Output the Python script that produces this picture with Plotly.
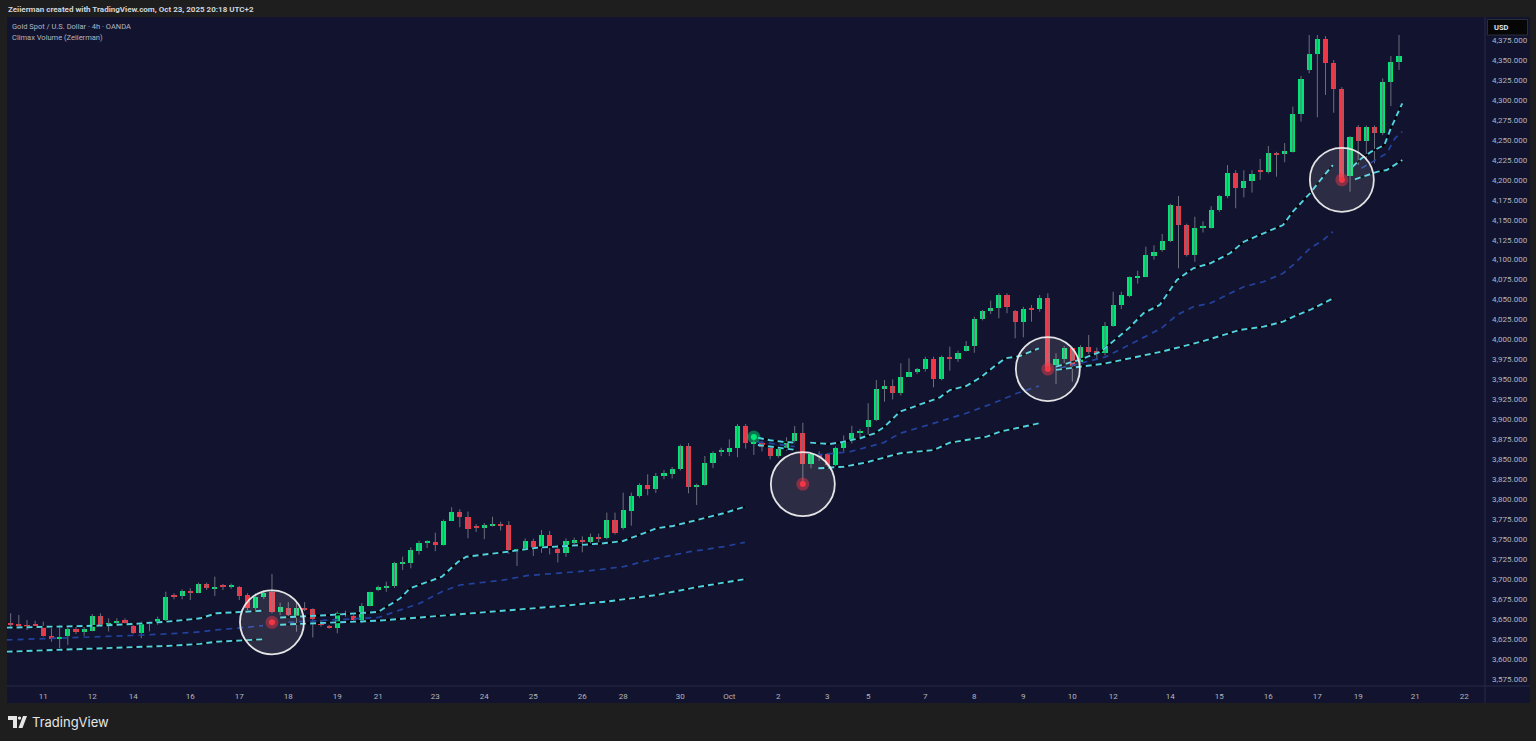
import plotly.graph_objects as go

# ---------------- data (bar index k; 4h bars, Gold Spot / USD) ----------------
bar_idx = list(range(-4, 167))

opens = [3645.5, 3643.5, 3642.0, 3643.5, 3640.5, 3628.8, 3624.7, 3628.8, 3637.3, 3635.0,
         3635.5, 3653.9, 3641.4, 3644.7, 3648.9, 3641.8, 3633.0, 3644.7, 3644.7, 3648.9,
         3679.8, 3679.0, 3685.2, 3683.1, 3693.9, 3688.6, 3691.5, 3690.5, 3689.8, 3680.2,
         3663.5, 3678.1, 3683.5, 3659.3, 3664.4, 3653.9, 3664.4, 3662.4, 3645.5, 3641.4,
         3639.2, 3658.1, 3653.9, 3648.9, 3666.8, 3686.4, 3689.8, 3691.5, 3719.9, 3719.9,
         3735.6, 3745.7, 3746.5, 3743.2, 3773.2, 3783.7, 3778.2, 3765.7, 3764.4, 3767.8,
         3769.4, 3767.8, 3736.5, 3738.3, 3748.2, 3738.7, 3755.3, 3737.8, 3732.4, 3745.4,
         3749.0, 3746.5, 3752.8, 3751.1, 3773.7, 3763.7, 3785.8, 3804.4, 3818.2, 3812.5,
         3829.6, 3831.7, 3838.0, 3866.7, 3815.0, 3818.2, 3845.1, 3859.8, 3859.6, 3863.9,
         3891.8, 3870.1, 3870.1, 3863.9, 3854.6, 3863.0, 3873.4, 3883.4, 3844.2, 3856.4,
         3856.4, 3842.9, 3863.9, 3874.3, 3882.6, 3890.2, 3899.3, 3937.7, 3941.8, 3933.4,
         3953.5, 3959.7, 3962.8, 3975.3, 3950.2, 3978.5, 3975.6, 3985.7, 3991.9, 4025.7,
         4035.7, 4039.9, 4055.8, 4036.1, 4022.4, 4037.9, 4037.9, 4052.4, 3968.1, 3975.6,
         3989.8, 3972.3, 3991.1, 3985.7, 3983.5, 4017.0, 4043.3, 4054.9, 4076.7, 4078.7,
         4105.0, 4112.1, 4123.8, 4167.2, 4143.4, 4105.9, 4140.0, 4140.0, 4162.2, 4179.7,
         4208.0, 4190.0, 4198.5, 4212.3, 4209.4, 4233.9, 4232.3, 4235.2, 4282.0, 4337.5,
         4357.5, 4375.9, 4346.6, 4314.0, 4204.8, 4266.5, 4249.0, 4265.7, 4258.2, 4322.9,
         4347.1]

highs = [3657.3, 3655.1, 3648.9, 3648.0, 3646.8, 3638.5, 3642.6, 3640.5, 3640.5, 3640.5,
         3656.4, 3657.3, 3651.0, 3651.0, 3651.0, 3644.7, 3646.8, 3646.8, 3653.0, 3684.3,
         3682.3, 3687.3, 3688.6, 3695.6, 3695.6, 3703.1, 3694.0, 3694.4, 3691.5, 3682.3,
         3682.3, 3686.4, 3706.5, 3670.6, 3671.3, 3671.8, 3671.3, 3663.5, 3648.9, 3642.6,
         3659.6, 3660.5, 3657.3, 3670.0, 3684.3, 3692.0, 3696.9, 3721.7, 3728.2, 3739.9,
         3748.2, 3748.6, 3758.2, 3774.6, 3790.0, 3787.5, 3784.6, 3768.9, 3770.3, 3778.2,
         3772.0, 3772.6, 3738.0, 3751.0, 3750.7, 3761.6, 3760.4, 3742.9, 3751.0, 3752.0,
         3753.6, 3757.0, 3757.0, 3783.3, 3783.3, 3808.3, 3808.3, 3820.0, 3831.3, 3833.0,
         3836.5, 3840.5, 3868.5, 3870.4, 3819.5, 3854.2, 3860.1, 3864.5, 3875.0, 3894.3,
         3894.3, 3878.0, 3873.0, 3866.0, 3866.0, 3877.6, 3891.8, 3895.9, 3858.0, 3860.0,
         3858.0, 3866.0, 3880.0, 3892.0, 3888.0, 3920.2, 3949.4, 3949.4, 3950.0, 3970.3,
         3976.5, 3964.5, 3978.5, 3978.5, 3980.0, 3991.1, 3986.0, 3998.2, 4028.6, 4037.0,
         4048.7, 4057.9, 4057.9, 4037.0, 4041.1, 4043.3, 4055.8, 4057.9, 3982.8, 3992.0,
         3991.0, 3993.0, 4005.7, 3990.0, 4022.0, 4059.9, 4059.9, 4079.0, 4086.2, 4116.3,
         4118.0, 4132.2, 4170.0, 4179.7, 4145.0, 4153.8, 4148.0, 4167.0, 4181.0, 4218.5,
         4212.0, 4212.0, 4212.0, 4226.0, 4242.3, 4235.0, 4246.0, 4291.6, 4330.0, 4381.3,
         4381.3, 4380.0, 4350.0, 4316.0, 4255.0, 4268.6, 4268.0, 4268.0, 4327.1, 4355.0,
         4381.3]

lows = [3640.5, 3640.5, 3636.4, 3638.5, 3628.0, 3621.7, 3613.5, 3617.6, 3631.4, 3629.0,
        3634.7, 3640.5, 3634.6, 3642.6, 3642.6, 3631.4, 3626.0, 3634.6, 3643.0, 3647.0,
        3674.8, 3674.8, 3673.9, 3682.3, 3686.4, 3679.0, 3686.4, 3688.0, 3673.9, 3661.4,
        3661.4, 3675.0, 3657.3, 3655.0, 3653.0, 3634.2, 3660.0, 3627.0, 3640.5, 3638.0,
        3632.2, 3653.0, 3646.8, 3645.0, 3666.0, 3685.0, 3684.3, 3689.0, 3711.5, 3713.6,
        3731.0, 3739.0, 3735.0, 3742.0, 3773.0, 3765.0, 3751.2, 3759.0, 3750.0, 3766.0,
        3761.0, 3731.5, 3716.5, 3737.0, 3729.0, 3733.0, 3731.0, 3721.0, 3728.0, 3742.0,
        3733.6, 3743.5, 3746.0, 3750.0, 3756.0, 3762.0, 3766.9, 3802.0, 3805.0, 3808.0,
        3825.0, 3826.0, 3836.0, 3807.5, 3792.9, 3817.0, 3839.0, 3854.0, 3854.0, 3852.6,
        3863.5, 3855.5, 3860.0, 3850.0, 3852.0, 3861.0, 3870.0, 3819.0, 3838.8, 3848.0,
        3840.0, 3840.0, 3860.0, 3870.0, 3875.0, 3880.5, 3898.0, 3922.2, 3925.0, 3930.0,
        3953.0, 3957.0, 3960.0, 3940.2, 3949.0, 3961.0, 3972.0, 3985.0, 3983.5, 4024.0,
        4032.0, 4026.6, 4032.9, 4001.6, 4002.8, 4022.4, 4035.0, 3964.0, 3944.4, 3968.0,
        3947.2, 3965.0, 3982.0, 3975.0, 3980.0, 4016.0, 4038.0, 4053.0, 4070.0, 4078.0,
        4100.0, 4110.0, 4122.0, 4089.2, 4104.0, 4097.5, 4134.0, 4139.0, 4160.0, 4177.0,
        4164.3, 4178.0, 4184.0, 4200.0, 4208.0, 4203.9, 4222.0, 4234.0, 4272.8, 4333.3,
        4278.3, 4306.2, 4284.0, 4196.0, 4185.1, 4218.5, 4225.0, 4220.7, 4256.0, 4292.4,
        4337.5]

closes = [3643.5, 3642.3, 3640.8, 3641.8, 3628.8, 3624.7, 3628.0, 3637.3, 3634.3, 3637.0,
          3653.9, 3641.4, 3644.7, 3648.0, 3644.7, 3633.0, 3644.7, 3645.2, 3649.7, 3678.1,
          3677.3, 3685.2, 3683.1, 3693.9, 3688.6, 3689.2, 3690.5, 3691.2, 3679.3, 3663.5,
          3678.1, 3683.1, 3659.3, 3664.8, 3655.1, 3663.5, 3662.4, 3649.8, 3643.5, 3639.2,
          3657.3, 3656.1, 3648.9, 3666.8, 3683.5, 3690.5, 3691.5, 3719.9, 3720.8, 3736.5,
          3745.7, 3746.2, 3743.2, 3773.2, 3783.7, 3778.2, 3763.2, 3764.4, 3767.8, 3769.4,
          3767.8, 3736.5, 3737.3, 3748.2, 3738.3, 3755.3, 3740.7, 3732.4, 3748.2, 3749.0,
          3746.1, 3752.4, 3751.1, 3773.7, 3758.2, 3786.6, 3804.4, 3818.2, 3812.5, 3829.6,
          3833.3, 3838.0, 3866.7, 3815.0, 3818.2, 3845.1, 3857.6, 3861.0, 3863.9, 3891.8,
          3870.1, 3871.0, 3865.0, 3854.6, 3863.0, 3873.4, 3883.4, 3844.2, 3856.4, 3854.0,
          3842.9, 3863.9, 3872.8, 3882.6, 3885.5, 3899.3, 3937.7, 3941.8, 3933.4, 3953.5,
          3959.7, 3962.8, 3975.3, 3950.2, 3978.5, 3975.6, 3983.5, 3992.0, 4025.7, 4035.7,
          4039.9, 4055.8, 4041.1, 4022.4, 4037.9, 4037.0, 4052.4, 3965.3, 3975.3, 3989.8,
          3966.9, 3991.1, 3984.8, 3983.5, 4017.0, 4043.3, 4055.8, 4077.9, 4079.6, 4105.5,
          4110.0, 4123.8, 4168.5, 4143.4, 4105.9, 4140.0, 4142.2, 4162.2, 4179.7, 4208.0,
          4190.0, 4198.5, 4207.0, 4209.4, 4233.2, 4232.3, 4236.1, 4282.4, 4325.8, 4357.5,
          4375.9, 4346.6, 4314.0, 4199.8, 4253.2, 4249.0, 4265.7, 4258.2, 4322.9, 4347.1,
          4355.0]

# x-axis day labels (bar index of first bar of each labelled day)
tick_idx = [0, 6, 11, 18, 24, 30, 36, 41, 48, 54, 60, 66, 71, 78, 84, 90, 96, 101,
            108, 114, 120, 126, 131, 138, 144, 150, 156, 161, 168, 174]
tick_txt = ['11', '12', '14', '16', '17', '18', '19', '21', '23', '24', '25', '26', '28',
            '30', 'Oct', '2', '3', '5', '7', '8', '9', '10', '12', '14', '15', '16', '17',
            '19', '21', '22']

price_ticks = list(range(3575, 4376, 25))

# Climax Volume indicator: climax events
climax_red_idx = [28, 93, 123, 159]
climax_red_px = [3646.0, 3819.0, 3963.0, 4200.0]
climax_green_idx = [87]
climax_green_px = [3878.0]

# band segments (each restarts at a climax)
segA_x = [-4.5, 0.8, 6.9, 11.0, 15.1, 19.2, 21.2, 26.9]
segA_up = [3639.3, 3640.5, 3641.8, 3643.9, 3646.8, 3651.0, 3657.3, 3660.5]
segA_mid = [3623.9, 3625.5, 3628.0, 3629.5, 3631.4, 3634.0, 3636.4, 3641.8]
segA_lo = [3609.2, 3611.0, 3613.5, 3615.0, 3616.4, 3619.0, 3621.7, 3624.7]

segB_up_x = [29, 35, 41, 43.7, 44.9, 48.8, 50.8, 51.8, 56.9, 60.4, 64.1, 68.6, 71, 75.1, 77.1, 80.8, 83.3, 85.9]
segB_up = [3652.0, 3655.0, 3659.0, 3676.0, 3688.6, 3703.1, 3721.9, 3728.1, 3734.4, 3739.4, 3741.5,
           3744.9, 3747.8, 3763.7, 3766.6, 3776.2, 3782.5, 3790.8]
segB_mid_x = [30, 41, 46.1, 48.8, 51, 56.3, 59.2, 62.9, 66.9, 71, 75.1, 79.2, 83.3, 85.9]
segB_mid = [3646.0, 3652.0, 3669.8, 3684.3, 3692.7, 3698.9, 3704.4, 3707.3, 3710.6, 3715.6,
            3726.1, 3734.4, 3740.7, 3746.1]
segB_lo_x = [29, 41, 46, 51, 57, 63, 69, 75, 80, 85.9]
segB_lo = [3643.0, 3648.0, 3652.0, 3656.0, 3661.0, 3666.0, 3672.0, 3680.0, 3690.0, 3700.0]

segC_x = [87.5, 89, 90.5, 92]
segC_up = [3877.0, 3874.0, 3872.0, 3871.0]
segC_mid = [3872.0, 3870.0, 3868.0, 3866.0]
segC_lo = [3868.0, 3866.0, 3864.0, 3862.0]

segD_up_x = [93.9, 96.3, 98, 100, 101.8, 103, 104.9, 106.9, 109.8, 111, 113, 114.9, 116.3, 117.8, 119.6, 121.9]
segD_up = [3870.9, 3869.2, 3872.1, 3876.4, 3882.6, 3890.9, 3909.7, 3916.8, 3927.7, 3936.8, 3941.8,
           3953.5, 3965.3, 3976.5, 3979.4, 3989.1]
segD_mid_x = [94.7, 98.8, 102.9, 104.9, 109, 113, 116.3, 119.2, 121.9]
segD_mid = [3855.5, 3859.6, 3870.9, 3882.6, 3895.1, 3907.7, 3920.2, 3932.7, 3941.8]
segD_lo_x = [94.9, 98, 100.8, 104.9, 109, 111, 115.5, 117.1, 121.9]
segD_lo = [3838.8, 3840.8, 3846.3, 3857.6, 3861.7, 3870.9, 3878.4, 3884.6, 3895.1]

segE_up_x = [124, 127, 129.5, 132.9, 134.7, 136.7, 138.8, 140.8, 142.9, 145.3, 147, 149.4, 151.8, 153, 155.1, 156.7, 157.9]
segE_up = [3966.0, 3975.0, 3985.0, 4014.1, 4032.9, 4043.3, 4074.6, 4089.2, 4095.5, 4108.0, 4122.5,
           4133.0, 4143.4, 4160.1, 4183.1, 4203.9, 4218.5]
segE_mid_x = [124.5, 130, 136.9, 138.8, 140.8, 142.9, 144.9, 147, 149.4, 151.8, 153, 155.1, 156.7, 157.9]
segE_mid = [3964.0, 3978.0, 4014.1, 4030.7, 4041.1, 4045.4, 4055.8, 4066.2, 4072.4, 4082.9, 4093.3,
            4114.2, 4124.6, 4135.0]
segE_lo_x = [124, 130, 137, 142, 146.5, 149.4, 151.8, 153.5, 155.1, 156.7, 157.9]
segE_lo = [3962.0, 3970.0, 3985.0, 3998.0, 4012.0, 4016.1, 4022.4, 4030.7, 4037.0, 4045.4, 4051.6]

segF_up_x = [160.3, 161.4, 162.6, 164.2, 165, 166.4]
segF_up = [4216.4, 4226.8, 4235.2, 4243.6, 4264.5, 4295.8]
segF_mid_x = [161.4, 164.5, 165.5, 166.4]
segF_mid = [4214.4, 4233.2, 4252.0, 4260.2]
segF_lo_x = [160.6, 163.4, 164.5, 166.4]
segF_lo = [4200.6, 4210.2, 4212.3, 4224.8]

# ---------------- styling ----------------
UP = '#00e676'
DOWN = '#f23645'
WICK = '#6b6e7b'
CYAN = '#52d2e3'
BLUE = '#22429e'
PANEL = '#12142f'
OUTER = '#1e1e1e'
TXT = '#b2b5be'

W, H = 1536, 741
L, R, T, B = 7, 51, 17, 55
PW, PH = W - L - R, H - T - B


def px_x(px):
    return (px - L) / PW


def px_y(py):
    return (H - B - py) / PH


fig = go.Figure()

# wicks
wx, wy = [], []
for k, hi, lo in zip(bar_idx, highs, lows):
    wx += [k, k, None]
    wy += [lo, hi, None]
fig.add_trace(go.Scatter(x=wx, y=wy, mode='lines', line=dict(color=WICK, width=1),
                         hoverinfo='skip', showlegend=False))

# bodies
body_base, body_h, body_col = [], [], []
for o, c in zip(opens, closes):
    body_base.append(min(o, c))
    body_h.append(max(abs(c - o), 1.4))
    body_col.append(UP if c >= o else DOWN)
fig.add_trace(go.Bar(x=bar_idx, y=body_h, base=body_base, width=0.62,
                     marker=dict(color=body_col, line=dict(width=0)),
                     hoverinfo='skip', showlegend=False))


def band(xs, ys, kind):
    if kind == 'cyan':
        fig.add_trace(go.Scatter(x=xs, y=ys, mode='lines', line=dict(color='#000000', width=1.8),
                                 hoverinfo='skip', showlegend=False))
        fig.add_trace(go.Scatter(x=xs, y=ys, mode='lines',
                                 line=dict(color=CYAN, width=1.9, dash='6px,4px'),
                                 hoverinfo='skip', showlegend=False))
    else:
        fig.add_trace(go.Scatter(x=xs, y=ys, mode='lines',
                                 line=dict(color=BLUE, width=1.7, dash='6px,5px'),
                                 hoverinfo='skip', showlegend=False))


band(segA_x, segA_up, 'cyan'); band(segA_x, segA_mid, 'blue'); band(segA_x, segA_lo, 'cyan')
band(segB_up_x, segB_up, 'cyan'); band(segB_mid_x, segB_mid, 'blue'); band(segB_lo_x, segB_lo, 'cyan')
band(segC_x, segC_up, 'cyan'); band(segC_x, segC_mid, 'blue'); band(segC_x, segC_lo, 'cyan')
band(segD_up_x, segD_up, 'cyan'); band(segD_mid_x, segD_mid, 'blue'); band(segD_lo_x, segD_lo, 'cyan')
band(segE_up_x, segE_up, 'cyan'); band(segE_mid_x, segE_mid, 'blue'); band(segE_lo_x, segE_lo, 'cyan')
band(segF_up_x, segF_up, 'cyan'); band(segF_mid_x, segF_mid, 'blue'); band(segF_lo_x, segF_lo, 'cyan')

# climax circles and dots
fig.add_trace(go.Scatter(x=climax_red_idx, y=climax_red_px, mode='markers',
                         marker=dict(size=64, color='rgba(255,255,255,0.11)',
                                     line=dict(color='rgba(238,238,238,0.95)', width=1.8)),
                         hoverinfo='skip', showlegend=False))
fig.add_trace(go.Scatter(x=climax_red_idx, y=climax_red_px, mode='markers',
                         marker=dict(size=13, color='rgba(242,54,69,0.45)', line=dict(width=0)),
                         hoverinfo='skip', showlegend=False))
fig.add_trace(go.Scatter(x=climax_red_idx, y=climax_red_px, mode='markers',
                         marker=dict(size=6, color=DOWN, line=dict(width=0)),
                         hoverinfo='skip', showlegend=False))
fig.add_trace(go.Scatter(x=climax_green_idx, y=climax_green_px, mode='markers',
                         marker=dict(size=13, color='rgba(0,230,118,0.45)', line=dict(width=0)),
                         hoverinfo='skip', showlegend=False))
fig.add_trace(go.Scatter(x=climax_green_idx, y=climax_green_px, mode='markers',
                         marker=dict(size=6, color=UP, line=dict(width=0)),
                         hoverinfo='skip', showlegend=False))

# ---------------- layout ----------------
x_left = (L - 43.3) / 8.167
x_right = (W - R - 43.3) / 8.167
y_top = 4350 - (T - 60) * 1.252
y_bot = 4350 - (H - B - 60) * 1.252

shapes = [
    dict(type='rect', xref='paper', yref='paper', x0=px_x(7), x1=px_x(1530), y0=px_y(703), y1=px_y(17),
         fillcolor=PANEL, line=dict(width=0), layer='below'),
    dict(type='line', xref='paper', yref='paper', x0=px_x(1485), x1=px_x(1485), y0=px_y(703), y1=px_y(17),
         line=dict(color='#262a45', width=1)),
    dict(type='line', xref='paper', yref='paper', x0=px_x(7), x1=px_x(1530), y0=px_y(686), y1=px_y(686),
         line=dict(color='#262a45', width=1)),
    # USD box
    dict(type='rect', xref='paper', yref='paper', x0=px_x(1487.5), x1=px_x(1527.5), y0=px_y(35), y1=px_y(19.5),
         fillcolor='#060606', line=dict(color='#2a2e39', width=1)),
    # TradingView logo (approximation)
    dict(type='rect', xref='paper', yref='paper', x0=px_x(8), x1=px_x(17), y0=px_y(720), y1=px_y(716),
         fillcolor='#e6e6e6', line=dict(width=0)),
    dict(type='rect', xref='paper', yref='paper', x0=px_x(13), x1=px_x(17), y0=px_y(728), y1=px_y(716),
         fillcolor='#e6e6e6', line=dict(width=0)),
    dict(type='circle', xref='paper', yref='paper', x0=px_x(17.8), x1=px_x(21.2), y0=px_y(719.8), y1=px_y(716.4),
         fillcolor='#e6e6e6', line=dict(width=0)),
    dict(type='path', xref='paper', yref='paper',
         path='M {} {} L {} {} L {} {} L {} {} Z'.format(px_x(18.5), px_y(728), px_x(22.5), px_y(728),
                                                         px_x(27), px_y(716), px_x(23), px_y(716)),
         fillcolor='#e6e6e6', line=dict(width=0)),
]

annotations = [
    dict(xref='paper', yref='paper', x=px_x(6), y=px_y(9), xanchor='left', yanchor='middle', showarrow=False,
         text='<b>Zeiierman created with TradingView.com, Oct 23, 2025 20:18 UTC+2</b>',
         font=dict(family='Roboto', size=8, color='#d1d4dc')),
    dict(xref='paper', yref='paper', x=px_x(10), y=px_y(26), xanchor='left', yanchor='middle', showarrow=False,
         text='Gold Spot / U.S. Dollar · 4h · OANDA', font=dict(family='Roboto', size=7.5, color=TXT)),
    dict(xref='paper', yref='paper', x=px_x(10), y=px_y(37), xanchor='left', yanchor='middle', showarrow=False,
         text='Climax Volume (Zeiierman)', font=dict(family='Roboto', size=7.5, color=TXT)),
    dict(xref='paper', yref='paper', x=px_x(1492), y=px_y(27.3), xanchor='left', yanchor='middle', showarrow=False,
         text='<b>USD</b>', font=dict(family='Roboto', size=7.5, color='#e0e3eb')),
    dict(xref='paper', yref='paper', x=px_x(30), y=px_y(722), xanchor='left', yanchor='middle', showarrow=False,
         text='TradingView', font=dict(family='Inter', size=13, color='#e6e6e6')),
]

fig.update_layout(
    width=W, height=H,
    margin=dict(l=L, r=R, t=T, b=B, pad=0),
    paper_bgcolor=OUTER, plot_bgcolor=PANEL,
    barmode='overlay', bargap=0,
    showlegend=False,
    shapes=shapes, annotations=annotations,
    xaxis=dict(range=[x_left, x_right], tickmode='array', tickvals=tick_idx, ticktext=tick_txt,
               showgrid=False, zeroline=False, showline=False, ticks='',
               tickfont=dict(family='Roboto', size=8, color=TXT), ticklabelstandoff=4, fixedrange=True),
    yaxis=dict(range=[y_bot, y_top], side='right', tickmode='array', tickvals=price_ticks,
               ticktext=['{:,.3f}'.format(v) for v in price_ticks],
               showgrid=False, zeroline=False, showline=False, ticks='',
               tickfont=dict(family='Roboto', size=8, color=TXT), ticklabelstandoff=6, fixedrange=True),
)

fig.write_html("out.html", config=dict(displayModeBar=False),
               post_script="document.body.style.margin='0';document.body.style.background='#1e1e1e';")
